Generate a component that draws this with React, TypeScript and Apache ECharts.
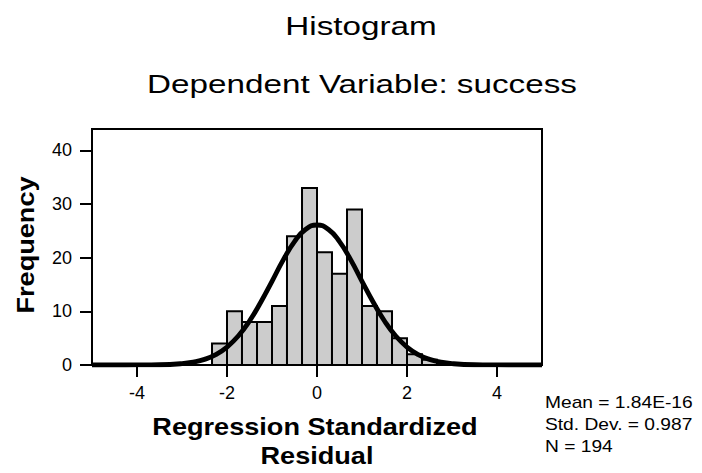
import React, { useEffect, useRef } from "react";
import * as echarts from "echarts";

// Histogram bins (regression standardized residual), width 1/3
const binStart = [-2.333, -2, -1.667, -1.333, -1, -0.667, -0.333, 0, 0.333, 0.667, 1, 1.333, 1.667, 2, 2.333];
const binEnd = [-2, -1.667, -1.333, -1, -0.667, -0.333, 0, 0.333, 0.667, 1, 1.333, 1.667, 2, 2.333, 2.667];
const frequency = [4, 10, 8, 8, 11, 24, 33, 21, 17, 29, 11, 10, 5, 2, 1];

// Fitted normal curve
const curveX = [-5, -4.5, -4, -3.5, -3, -2.75, -2.5, -2.25, -2, -1.75, -1.5, -1.25, -1, -0.75, -0.5, -0.25, 0, 0.25, 0.5, 0.75, 1, 1.25, 1.5, 1.75, 2, 2.25, 2.5, 2.75, 3, 3.5, 4, 4.5, 5];
const curveY = [0, 0, 0.01, 0.05, 0.26, 0.54, 1.05, 1.94, 3.35, 5.4, 8.2, 11.7, 15.6, 19.6, 23.0, 25.3, 26.1, 25.3, 23.0, 19.6, 15.6, 11.7, 8.2, 5.4, 3.35, 1.94, 1.05, 0.54, 0.26, 0.05, 0.01, 0, 0];

const xTicks = [-4, -2, 0, 2, 4];
const yTicks = [0, 10, 20, 30, 40];

const titleText = "Histogram";
const subtitleText = "Dependent Variable: success";
const xName1 = "Regression Standardized";
const xName2 = "Residual";
const yName = "Frequency";
const statLines = ["Mean = 1.84E-16", "Std. Dev. = 0.987", "N = 194"];

const FONT = "'Liberation Sans', Arial, sans-serif";

export default function App() {
  const ref = useRef<HTMLDivElement>(null);
  useEffect(() => {
    if (!ref.current) return;
    const chart = echarts.init(ref.current, null, { renderer: "svg" });
    const barData = binStart.map((s, i) => [s, binEnd[i], frequency[i]]);
    const lineData = curveX.map((x, i) => [x, curveY[i]]);
    chart.setOption({
      animation: false,
      backgroundColor: "#fff",
      grid: {
        left: 92,
        top: 129,
        width: 450,
        height: 236,
        show: true,
        borderColor: "#000",
        borderWidth: 2,
        backgroundColor: "transparent",
      },
      xAxis: {
        type: "value",
        min: -5,
        max: 5,
        axisLine: { show: true, onZero: false, lineStyle: { color: "#000", width: 2 } },
        axisTick: { show: true, length: 12, lineStyle: { color: "#000", width: 2 }, customValues: xTicks },
        axisLabel: { color: "#000", fontFamily: FONT, fontSize: 18, margin: 19, customValues: xTicks },
        splitLine: { show: false },
      },
      yAxis: {
        type: "value",
        min: 0,
        max: 44,
        axisLine: { show: true, onZero: false, lineStyle: { color: "#000", width: 2 } },
        axisTick: { show: true, length: 12, lineStyle: { color: "#000", width: 2 }, customValues: yTicks },
        axisLabel: { color: "#000", fontFamily: FONT, fontSize: 18, margin: 20, customValues: yTicks },
        splitLine: { show: false },
      },
      series: [
        {
          type: "custom",
          data: barData,
          encode: { x: [0, 1], y: 2 },
          renderItem: (params: any, api: any) => {
            const p0 = api.coord([api.value(0), api.value(2)]);
            const p1 = api.coord([api.value(1), 0]);
            return {
              type: "rect",
              shape: { x: p0[0], y: p0[1], width: p1[0] - p0[0], height: p1[1] - p0[1] },
              style: { fill: "#cccccc", stroke: "#000", lineWidth: 2 },
            };
          },
          z: 2,
        },
        {
          type: "line",
          data: lineData,
          smooth: true,
          symbol: "none",
          lineStyle: { color: "#000", width: 4.8 },
          z: 3,
        },
      ],
      graphic: [
        {
          type: "text", x: 361, y: 26, scaleX: 1.33,
          style: { text: titleText, fontFamily: FONT, fontSize: 25, fill: "#000", align: "center", verticalAlign: "middle" },
        },
        {
          type: "text", x: 362, y: 84, scaleX: 1.33,
          style: { text: subtitleText, fontFamily: FONT, fontSize: 25, fill: "#000", align: "center", verticalAlign: "middle" },
        },
        {
          type: "text", x: 26, y: 245, rotation: Math.PI / 2, scaleX: 1.13,
          style: { text: yName, fontFamily: FONT, fontSize: 24, fontWeight: "bold", fill: "#000", align: "center", verticalAlign: "middle" },
        },
        {
          type: "text", x: 315, y: 427, scaleX: 1.13,
          style: { text: xName1, fontFamily: FONT, fontSize: 24, fontWeight: "bold", fill: "#000", align: "center", verticalAlign: "middle" },
        },
        {
          type: "text", x: 317, y: 456, scaleX: 1.13,
          style: { text: xName2, fontFamily: FONT, fontSize: 24, fontWeight: "bold", fill: "#000", align: "center", verticalAlign: "middle" },
        },
        ...statLines.map((t, i) => ({
          type: "text", x: 545, y: 403 + i * 22, scaleX: 1.2,
          style: { text: t, fontFamily: FONT, fontSize: 16, fill: "#000", align: "left", verticalAlign: "middle" },
        })),
      ],
    });
    return () => chart.dispose();
  }, []);
  return <div ref={ref} style={{ width: 702, height: 473, position: "fixed", left: 0, top: 0 }} />;
}
